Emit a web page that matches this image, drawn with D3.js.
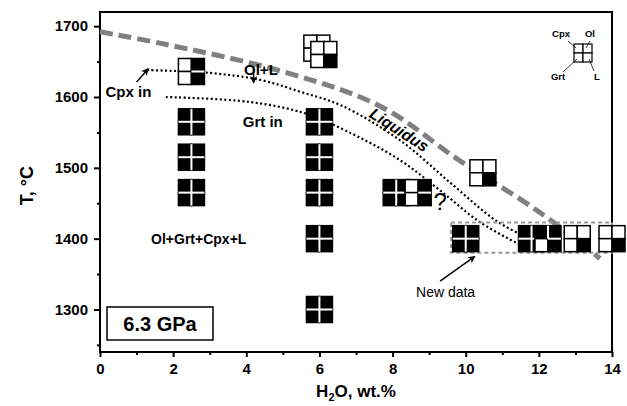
<!DOCTYPE html>
<html>
<head>
<meta charset="utf-8">
<script src="https://cdn.jsdelivr.net/npm/d3@7"></script>
<style>
  body { margin: 0; background: #fff; }
  text { font-family: "Liberation Sans", Arial, sans-serif; }
</style>
</head>
<body>
<svg id="chart"></svg>
<script>
const WIDTH = 627, HEIGHT = 406
const SVG = d3.select('#chart').attr('width', WIDTH).attr('height', HEIGHT)

// tick labels
const xTicks = [0, 2, 4, 6, 8, 10, 12, 14]
const yTicks = [1300, 1400, 1500, 1600, 1700]

// runs: water content, temperature, phases present (Cpx, Ol, Grt, L -> 1/0)
const runH2O   = [2.5, 2.5, 2.5, 2.5, 6.0, 6.0, 6.0, 6.0, 6.0, 5.93, 6.12, 8.1, 8.7, 10.47, 10.0, 11.8, 12.25, 13.05, 14.0]
const runTemp  = [1565, 1515, 1465, 1636, 1565, 1515, 1465, 1400, 1300, 1669, 1660, 1465, 1465, 1493, 1400, 1400, 1400, 1400, 1400]
const runPhase = ['1111', '1111', '1111', '0101', '1111', '1111', '1111', '1111', '1111', '0001', '0001', '1111', '0101', '0001', '1111', '1111', '1101', '0001', '0001']

// liquidus and the two dotted phase-in curves
const liqH2O  = [0, 1.64, 4.92, 7.66, 9.84, 12.03, 13.67]
const liqTemp = [1692, 1676, 1637, 1587, 1510, 1437, 1372]
const cpxH2O  = [1.29, 3.0, 4.4, 5.5, 6.6, 8.2, 9.6, 10.9, 12.0]
const cpxTemp = [1638, 1634, 1624, 1607, 1588, 1539, 1478, 1423, 1394]
const grtH2O  = [1.8, 4.1, 5.6, 6.7, 8.2, 9.3, 10.4, 11.5]
const grtTemp = [1600, 1593, 1577, 1553, 1511, 1468, 1423, 1391]

const xScale = d3.scaleLinear().domain([0, 14]).range([100, 612])
const yScale = d3.scaleLinear().domain([1240, 1720]).range([352, 12])

// frame
SVG.append('rect')
  .attr('x', xScale(0)).attr('y', yScale(1720))
  .attr('width', xScale(14) - xScale(0)).attr('height', yScale(1240) - yScale(1720))
  .attr('fill', 'none').attr('stroke', '#000').attr('stroke-width', 2)

// axes
let x_axis = d3.axisBottom(xScale).tickValues(xTicks).tickSize(5).tickPadding(6).tickFormat(d3.format('d'))
let x_minor = d3.axisBottom(xScale).tickValues(d3.range(1, 14, 2)).tickSize(3).tickFormat('')
let y_axis = d3.axisLeft(yScale).tickValues(yTicks).tickSize(6).tickPadding(6).tickFormat(d3.format('d'))
let y_minor = d3.axisLeft(yScale).tickValues([1250, 1350, 1450, 1550, 1650]).tickSize(3).tickFormat('')

function styleAxis (g) {
  g.select('.domain').remove()
  g.selectAll('line').attr('stroke', '#000').attr('stroke-width', 2)
  g.selectAll('text').attr('fill', '#000').style('font-size', '15px').style('font-weight', 'bold')
}
SVG.append('g').attr('transform', 'translate(0,' + yScale(1240) + ')').call(x_axis).call(styleAxis)
SVG.append('g').attr('transform', 'translate(0,' + yScale(1240) + ')').call(x_minor).call(styleAxis)
SVG.append('g').attr('transform', 'translate(' + xScale(0) + ',0)').call(y_axis).call(styleAxis)
SVG.append('g').attr('transform', 'translate(' + xScale(0) + ',0)').call(y_minor).call(styleAxis)

// axis titles
const xt = SVG.append('text')
  .attr('x', (xScale(0) + xScale(14)) / 2).attr('y', 397)
  .attr('text-anchor', 'middle').style('font-size', '17px').style('font-weight', 'bold')
xt.append('tspan').text('H')
xt.append('tspan').text('2').style('font-size', '11px').attr('dy', 4)
xt.append('tspan').text('O, wt.%').attr('dy', -4)

SVG.append('text')
  .attr('transform', 'translate(33,' + yScale(1475) + ') rotate(-90)')
  .attr('text-anchor', 'middle').style('font-size', '18px').style('font-weight', 'bold')
  .text('T, °C')

// curves
const line = d3.line().x(d => xScale(d[0])).y(d => yScale(d[1])).curve(d3.curveCatmullRom)

SVG.append('path')
  .attr('d', line(d3.zip(liqH2O, liqTemp)))
  .attr('fill', 'none').attr('stroke', '#808080').attr('stroke-width', 5)
  .attr('stroke-dasharray', '13,6')

SVG.append('path')
  .attr('d', line(d3.zip(cpxH2O, cpxTemp)))
  .attr('fill', 'none').attr('stroke', '#000').attr('stroke-width', 2.2)
  .attr('stroke-dasharray', '2,2.5')
SVG.append('path')
  .attr('d', line(d3.zip(grtH2O, grtTemp)))
  .attr('fill', 'none').attr('stroke', '#000').attr('stroke-width', 2.2)
  .attr('stroke-dasharray', '2,2.5')

// new data box
SVG.append('rect')
  .attr('x', xScale(9.6)).attr('y', yScale(1423))
  .attr('width', xScale(14) - xScale(9.6)).attr('height', yScale(1380) - yScale(1423))
  .attr('fill', 'none').attr('stroke', '#999').attr('stroke-width', 2).attr('stroke-dasharray', '4,3')

// phase symbols: 2x2 grid, Cpx TL, Ol TR, Grt BL, L BR
function drawSymbol (g, cx, cy, code, cell, sw) {
  const on = code.split('').map(c => c === '1')
  on.forEach((v, i) => {
    const col = i % 2, row = Math.floor(i / 2)
    g.append('rect')
      .attr('x', cx - cell + col * cell).attr('y', cy - cell + row * cell)
      .attr('width', cell).attr('height', cell)
      .attr('fill', v ? '#000' : '#fff')
      .attr('stroke', '#000').attr('stroke-width', sw)
  })
  // white gaps between neighbouring black cells
  const seps = [[0, 1, 'v', 0], [2, 3, 'v', 1], [0, 2, 'h', 0], [1, 3, 'h', 1]]
  seps.forEach(s => {
    if (!(on[s[0]] && on[s[1]])) return
    const l = g.append('line').attr('stroke', '#fff').attr('stroke-width', 2)
    if (s[2] === 'v') {
      l.attr('x1', cx).attr('x2', cx)
        .attr('y1', cy - cell + s[3] * cell).attr('y2', cy + s[3] * cell)
    } else {
      l.attr('y1', cy).attr('y2', cy)
        .attr('x1', cx - cell + s[3] * cell).attr('x2', cx + s[3] * cell)
    }
  })
}
const symbols = SVG.append('g')
runH2O.forEach((h, i) => {
  drawSymbol(symbols, xScale(h), yScale(runTemp[i]), runPhase[i], 13, 1.5)
})

// legend grid
const lg = SVG.append('g')
drawSymbol(lg, 583, 53, '0000', 9, 1.2)
lg.selectAll('text').data(['Cpx', 'Ol', 'Grt', 'L']).enter().append('text')
  .attr('x', (d, i) => [561, 590, 558, 597][i])
  .attr('y', (d, i) => [37, 37, 80, 80][i])
  .attr('text-anchor', 'middle').style('font-size', '9.5px').style('font-weight', 'bold')
  .text(d => d)
lg.selectAll('line.lead').data([[568, 41, 576, 48], [590, 41, 586, 48], [563, 72, 577, 59], [594, 71, 589, 59]]).enter().append('line')
  .attr('x1', d => d[0]).attr('y1', d => d[1]).attr('x2', d => d[2]).attr('y2', d => d[3])
  .attr('stroke', '#000').attr('stroke-width', 0.8)

// annotations
function label (txt, h, t, size, anchor) {
  return SVG.append('text').attr('x', xScale(h)).attr('y', yScale(t))
    .attr('text-anchor', anchor).style('font-size', size + 'px').style('font-weight', 'bold').text(txt)
}
label('Cpx in', 0.15, 1600, 15, 'start')
label('Ol+L', 4.4, 1631, 15, 'middle')
label('Grt in', 4.45, 1558, 15, 'middle')
label('Ol+Grt+Cpx+L', 2.7, 1392, 14, 'middle')
label('?', 9.3, 1440, 24, 'middle').style('font-weight', 'normal')
label('New data', 9.45, 1317, 14, 'middle').style('font-weight', 'normal')

SVG.append('text')
  .attr('transform', 'translate(' + xScale(8.1) + ',' + yScale(1547) + ') rotate(33)')
  .attr('text-anchor', 'middle').style('font-size', '16px').style('font-weight', 'bold').style('font-style', 'italic')
  .text('Liquidus')

// pressure box
SVG.append('rect').attr('x', 107).attr('y', 307).attr('width', 106).attr('height', 33)
  .attr('fill', '#fff').attr('stroke', '#000').attr('stroke-width', 1.5)
label('6.3 GPa', 4.3, 1269, 20, 'middle').attr('x', 160)

// arrows
SVG.append('defs').append('marker').attr('id', 'ah')
  .attr('viewBox', '0 0 10 10').attr('refX', 9).attr('refY', 5)
  .attr('markerWidth', 5).attr('markerHeight', 5).attr('orient', 'auto')
  .append('path').attr('d', 'M0,0 L10,5 L0,10 L3,5 Z').attr('fill', '#000')
const arrows = [[1.0, 1621, 1.32, 1640], [4.2, 1642, 4.2, 1620], [9.3, 1340, 10.25, 1375]]
arrows.forEach(a => {
  SVG.append('line')
    .attr('x1', xScale(a[0])).attr('y1', yScale(a[1])).attr('x2', xScale(a[2])).attr('y2', yScale(a[3]))
    .attr('stroke', '#000').attr('stroke-width', 1.5).attr('marker-end', 'url(#ah)')
})
</script>
</body>
</html>
